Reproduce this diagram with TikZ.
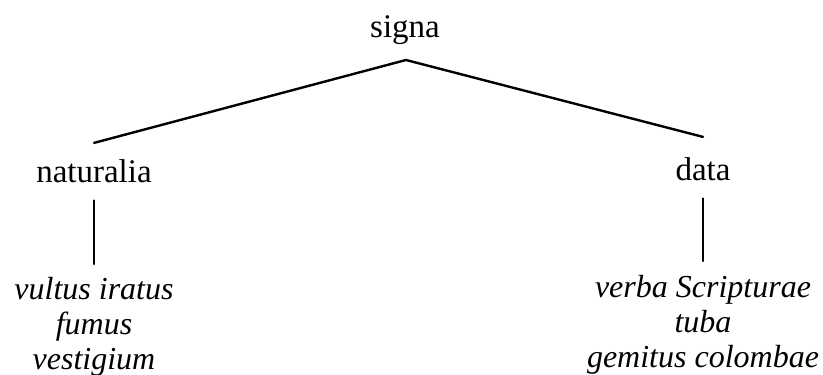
\documentclass[tikz,border=0pt]{standalone}
\usepackage{fontspec}
\setmainfont{Liberation Serif}
\begin{document}
\begin{tikzpicture}[x=1pt,y=-1pt,
  lbl/.style={inner sep=0pt, font=\fontsize{33}{35}\selectfont},
  lst/.style={inner sep=0pt, align=center, font=\fontsize{32}{35}\selectfont\itshape},
  conn/.style={line width=2.4pt, line cap=round}]
\useasboundingbox (0,0) rectangle (823,375);
\node[lbl, anchor=base] (signa) at (405,37) {signa};
\node[lbl, anchor=base] (nat) at (94,182) {naturalia};
\node[lbl, anchor=base] (data) at (703,180) {data};
\node[lst, anchor=north] (natlist) at (94,277) {vultus iratus\\fumus\\vestigium};
\node[lst, anchor=north] (datalist) at (703,275) {verba Scripturae\\tuba\\gemitus colombae};
\coordinate (apex) at (406,60);
\coordinate (lend) at ([yshift=16pt]nat.north);
\coordinate (rend) at ([yshift=20pt]data.north);
\draw[conn] (lend) -- (apex) -- (rend);
\draw[conn] ([yshift=-18pt]nat.south) -- ([yshift=13pt]natlist.north);
\draw[conn] ([yshift=-18pt]data.south) -- ([yshift=14pt]datalist.north);
\end{tikzpicture}
\end{document}
